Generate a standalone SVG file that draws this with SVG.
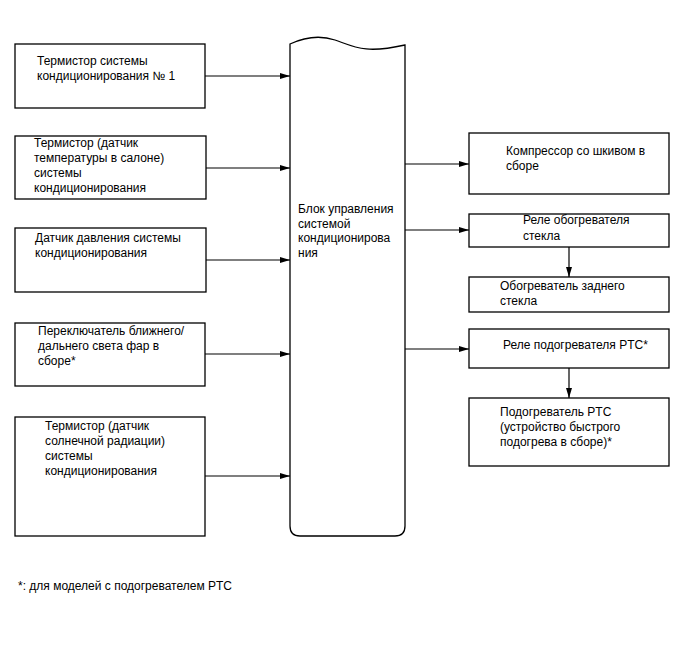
<svg xmlns="http://www.w3.org/2000/svg" width="688" height="658" viewBox="0 0 688 658">
<style>
.box{fill:#fff;stroke:#000;stroke-width:1.3}
.t{font-family:"Liberation Sans",Arial,sans-serif;font-size:12px;fill:#000}
.c{stroke:#000;stroke-width:1.2;fill:none}
</style>
<defs>
<marker id="ah" viewBox="0 0 10 6" refX="10" refY="3" markerWidth="10" markerHeight="6" markerUnits="userSpaceOnUse" orient="auto">
<path d="M0,0 L10,3 L0,6 Z" fill="#000"/>
</marker>
</defs>
<rect width="688" height="658" fill="#fff"/>
<g id="n1"><rect class="box" x="15" y="44" width="190" height="64"/>
<text class="t" x="37" y="65">Термистор системы</text><text class="t" x="37" y="80">кондиционирования № 1</text></g>
<g id="n2"><rect class="box" x="15" y="136" width="191" height="63"/>
<text class="t" x="34" y="147">Термистор (датчик</text><text class="t" x="34" y="162">температуры в салоне)</text><text class="t" x="34" y="177">системы</text><text class="t" x="34" y="192">кондиционирования</text></g>
<g id="n3"><rect class="box" x="15" y="228" width="191" height="64"/>
<text class="t" x="35" y="242">Датчик давления системы</text><text class="t" x="35" y="257">кондиционирования</text></g>
<g id="n4"><rect class="box" x="15" y="323" width="190" height="63"/>
<text class="t" x="38" y="335">Переключатель ближнего/</text><text class="t" x="38" y="350">дальнего света фар в</text><text class="t" x="38" y="365">сборе*</text></g>
<g id="n5"><rect class="box" x="15" y="417" width="190" height="119"/>
<text class="t" x="45" y="430">Термистор (датчик</text><text class="t" x="45" y="445">солнечной радиации)</text><text class="t" x="45" y="460">системы</text><text class="t" x="45" y="475">кондиционирования</text></g>
<g id="ecu"><path class="box" d="M290,44 C305,37 320,35 335,40 C355,47 365,54 405,45 L405,526 Q405,536 395,536 L300,536 Q290,536 290,526 Z"/>
<text class="t" x="298" y="213">Блок управления</text><text class="t" x="298" y="228">системой</text><text class="t" x="298" y="242">кондиционирова</text><text class="t" x="298" y="257">ния</text></g>
<g id="r1"><rect class="box" x="469" y="133" width="200" height="61"/>
<text class="t" x="506" y="155">Компрессор со шкивом в</text><text class="t" x="506" y="170">сборе</text></g>
<g id="r2"><rect class="box" x="469" y="214" width="200" height="33"/>
<text class="t" x="523" y="224">Реле обогревателя</text><text class="t" x="523" y="240">стекла</text></g>
<g id="r3"><rect class="box" x="469" y="277" width="200" height="35"/>
<text class="t" x="500" y="290">Обогреватель заднего</text><text class="t" x="500" y="305">стекла</text></g>
<g id="r4"><rect class="box" x="469" y="329" width="200" height="39"/>
<text class="t" x="503" y="349">Реле подогревателя PTC*</text></g>
<g id="r5"><rect class="box" x="469" y="398" width="200" height="68"/>
<text class="t" x="500" y="416">Подогреватель PTC</text><text class="t" x="500" y="431">(устройство быстрого</text><text class="t" x="500" y="446">подогрева в сборе)*</text></g>
<g id="connectors">
<line class="c" x1="205" y1="76" x2="290" y2="76" marker-end="url(#ah)"/>
<line class="c" x1="206" y1="168" x2="290" y2="168" marker-end="url(#ah)"/>
<line class="c" x1="206" y1="260" x2="290" y2="260" marker-end="url(#ah)"/>
<line class="c" x1="205" y1="354" x2="290" y2="354" marker-end="url(#ah)"/>
<line class="c" x1="205" y1="476" x2="290" y2="476" marker-end="url(#ah)"/>
<line class="c" x1="405" y1="164" x2="469" y2="164" marker-end="url(#ah)"/>
<line class="c" x1="405" y1="230" x2="469" y2="230" marker-end="url(#ah)"/>
<line class="c" x1="405" y1="349" x2="469" y2="349" marker-end="url(#ah)"/>
<line class="c" x1="569" y1="247" x2="569" y2="277" marker-end="url(#ah)"/>
<line class="c" x1="569" y1="368" x2="569" y2="398" marker-end="url(#ah)"/>
</g>
<text class="t" x="18" y="590">*: для моделей с подогревателем PTC</text>
</svg>
